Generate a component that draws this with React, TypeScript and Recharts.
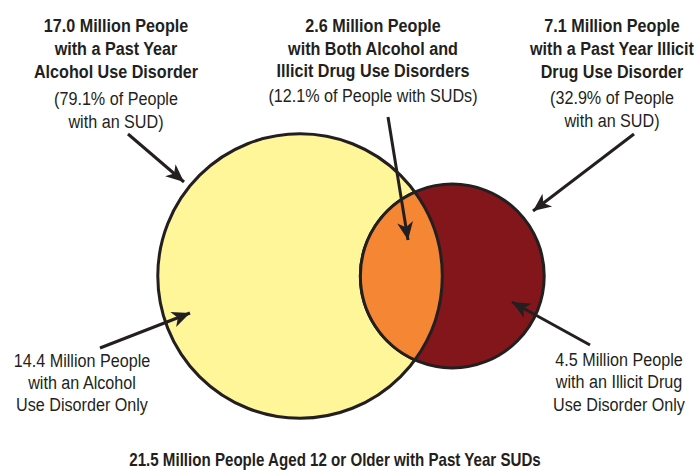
import React from 'react';
import { ScatterChart, Scatter, XAxis, YAxis } from 'recharts';

// Past year substance use disorders (SUDs), people aged 12 or older, in millions
const groupTotals = [17.0, 7.1]; // alcohol, illicit drug
const groupShares = [79.1, 32.9]; // % of people with an SUD
const onlyTotals = [14.4, 4.5];
const bothTotal = 2.6;
const bothShare = 12.1;
const allTotal = 21.5;

const W = 697;
const H = 470;
const K = 34.5; // px per sqrt(million people), so circle area follows the count
const MID_X = 351;
const MID_Y = 276;

const INK = '#231f20';
const FILLS = ['#fff599', '#82161b'];
const BOTH_FILL = '#f58634';
const FONT = '"Liberation Sans", Arial, sans-serif';
const SQUEEZE = 0.85; // condensed face

function lensArea(r1: number, r2: number, d: number) {
  if (d >= r1 + r2) return 0;
  const a1 = Math.acos((d * d + r1 * r1 - r2 * r2) / (2 * d * r1));
  const a2 = Math.acos((d * d + r2 * r2 - r1 * r1) / (2 * d * r2));
  const k = Math.sqrt((-d + r1 + r2) * (d + r1 - r2) * (d - r1 + r2) * (d + r1 + r2));
  return r1 * r1 * a1 + r2 * r2 * a2 - k / 2;
}

// distance between centres that gives the overlap its area
function solveDistance(r1: number, r2: number, target: number) {
  let lo = Math.abs(r1 - r2) + 0.001;
  let hi = r1 + r2;
  for (let i = 0; i < 60; i++) {
    const mid = (lo + hi) / 2;
    if (lensArea(r1, r2, mid) > target) lo = mid;
    else hi = mid;
  }
  return (lo + hi) / 2;
}

const r1 = K * Math.sqrt(groupTotals[0]);
const r2 = K * Math.sqrt(groupTotals[1]);
const dist = solveDistance(r1, r2, Math.PI * K * K * bothTotal);
const left = MID_X - (r1 + dist + r2) / 2;

const vennData = [
  { x: left + r1, y: MID_Y, kind: 'circle', r: r1, fill: FILLS[0] },
  { x: left + r1 + dist, y: MID_Y, kind: 'circle', r: r2, fill: FILLS[1] },
  { x: left + r1, y: MID_Y, kind: 'lens', r: r1, r2, d: dist, fill: BOTH_FILL },
];

// callout arrows: [from, to]
const ARROWS = [
  [{ x: 128, y: 134 }, { x: 184, y: 182 }],
  [{ x: 388, y: 117 }, { x: 408, y: 240 }],
  [{ x: 634, y: 134 }, { x: 533, y: 211 }],
  [{ x: 100, y: 348 }, { x: 190, y: 313 }],
  [{ x: 590, y: 345 }, { x: 512, y: 302 }],
];

const VennShape = (props: any) => {
  const { cx, cy, payload } = props;
  if (payload.kind === 'lens') {
    const { r, r2: s, d } = payload;
    const a = (d * d + r * r - s * s) / (2 * d);
    const h = Math.sqrt(r * r - a * a);
    const px = cx + a;
    const path = `M${px},${cy - h} A${s},${s} 0 0 0 ${px},${cy + h} A${r},${r} 0 0 0 ${px},${cy - h} Z`;
    return <path d={path} fill={payload.fill} stroke={INK} strokeWidth={3} />;
  }
  return <circle cx={cx} cy={cy} r={payload.r} fill={payload.fill} stroke={INK} strokeWidth={3} />;
};

// arrow head on the tip point, pointing away from the tail point
const ArrowTip = (props: any) => {
  const { cx, cy, payload } = props;
  if (!payload.tip) return <g />;
  const dx = payload.x - payload.fromX;
  const dy = payload.y - payload.fromY;
  const len = Math.hypot(dx, dy);
  const ux = dx / len;
  const uy = dy / len;
  const nx = -uy;
  const ny = ux;
  const L = 18;
  const w = 8;
  const notch = 5;
  const bx = cx - ux * L;
  const by = cy - uy * L;
  const mx = cx - ux * (L - notch);
  const my = cy - uy * (L - notch);
  const pts = `${cx},${cy} ${bx + nx * w},${by + ny * w} ${mx},${my} ${bx - nx * w},${by - ny * w}`;
  return <polygon points={pts} fill={INK} />;
};

const arrowData = ARROWS.map(([a, b]) => [
  { x: a.x, y: a.y, tip: false },
  { x: b.x, y: b.y, tip: true, fromX: a.x, fromY: a.y },
]);

const m = (v: number) => `${v.toFixed(1)} Million People`;

const labelBlocks = [
  {
    x: 116,
    size: 19,
    bold: [[32, m(groupTotals[0])], [55, 'with a Past Year'], [78, 'Alcohol Use Disorder']],
    regular: [[105, `(${groupShares[0]}% of People`], [128, 'with an SUD)']],
  },
  {
    x: 373,
    size: 19,
    bold: [[32, m(bothTotal)], [55, 'with Both Alcohol and'], [77, 'Illicit Drug Use Disorders']],
    regular: [[102, `(${bothShare}% of People with SUDs)`]],
  },
  {
    x: 612,
    size: 19,
    bold: [[32, m(groupTotals[1])], [55, 'with a Past Year Illicit'], [78, 'Drug Use Disorder']],
    regular: [[104, `(${groupShares[1]}% of People`], [127, 'with an SUD)']],
  },
  {
    x: 82,
    size: 19,
    bold: [],
    regular: [[367, m(onlyTotals[0])], [389, 'with an Alcohol'], [411, 'Use Disorder Only']],
  },
  {
    x: 619,
    size: 19,
    bold: [],
    regular: [[366, m(onlyTotals[1])], [388, 'with an Illicit Drug'], [411, 'Use Disorder Only']],
  },
  {
    x: 335,
    size: 17.8,
    bold: [[466, `${allTotal} Million People Aged 12 or Older with Past Year SUDs`]],
    regular: [],
  },
];

const Line = ({ x, y, text, bold }: { x: number; y: number; text: string; bold?: boolean }) => (
  <text transform={`translate(${x},${y}) scale(${SQUEEZE},1)`} x={0} y={0} fontWeight={bold ? 'bold' : 'normal'}>
    {text}
  </text>
);

export default function App() {
  return (
    <div style={{ position: 'relative', width: W, height: H, background: '#fff' }}>
      <style>{'body{margin:0}'}</style>
      <ScatterChart width={W} height={H} margin={{ top: 0, right: 0, bottom: 0, left: 0 }}>
        <XAxis type="number" dataKey="x" domain={[0, W]} hide />
        <YAxis type="number" dataKey="y" domain={[0, H]} reversed hide />
        <Scatter data={vennData} shape={VennShape} isAnimationActive={false} />
        {arrowData.map((pts, i) => (
          <Scatter
            key={i}
            data={pts}
            line={{ stroke: INK, strokeWidth: 3 }}
            shape={ArrowTip}
            isAnimationActive={false}
          />
        ))}
      </ScatterChart>
      <svg width={W} height={H} style={{ position: 'absolute', left: 0, top: 0, pointerEvents: 'none' }}>
        {labelBlocks.map((b, i) => (
          <g key={i} fontFamily={FONT} fontSize={b.size} fill={INK} textAnchor="middle">
            {b.bold.map(([y, t]) => (
              <Line key={`b${y}`} x={b.x} y={y as number} text={t as string} bold />
            ))}
            {b.regular.map(([y, t]) => (
              <Line key={`r${y}`} x={b.x} y={y as number} text={t as string} />
            ))}
          </g>
        ))}
      </svg>
    </div>
  );
}
